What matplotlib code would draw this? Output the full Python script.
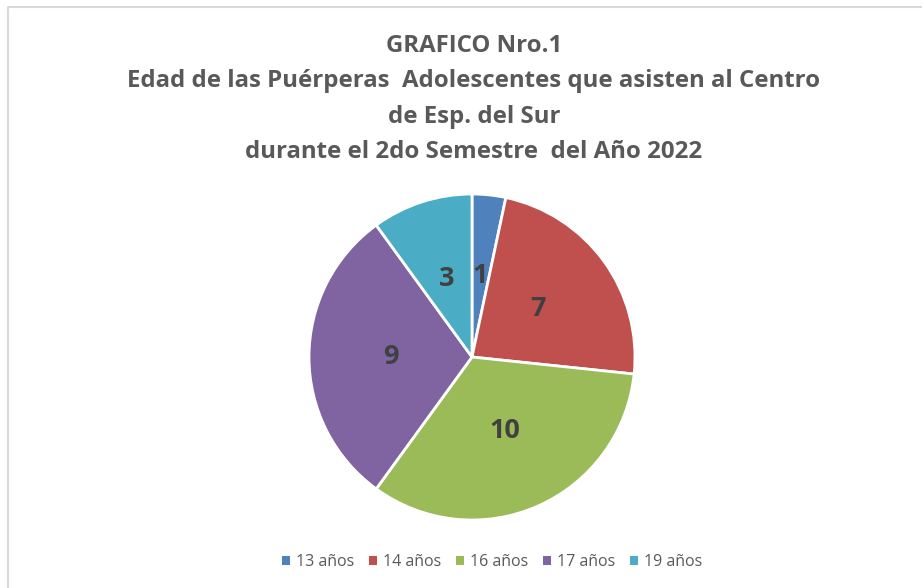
import matplotlib
matplotlib.use('Agg')
import matplotlib.pyplot as plt
from matplotlib.lines import Line2D
from matplotlib.patches import Patch

plt.rcParams['font.family'] = ['Open Sans', 'DejaVu Sans']

CATEGORIES = ['13 años', '14 años', '16 años', '17 años', '19 años']
VALUES     = [1, 7, 10, 9, 3]
COLORS     = ['#4F81BD', '#C0504D', '#9BBB59', '#8064A2', '#4BACC6']
TITLE = ('GRAFICO Nro.1\n'
         'Edad de las Puérperas  Adolescentes que asisten al Centro\n'
         'de Esp. del Sur\n'
         'durante el 2do Semestre  del Año 2022')

W, H = 922, 588
fig = plt.figure(figsize=(W / 100, H / 100), dpi=100)
ax = fig.add_axes([0, 0, 1, 1])

# chart area border (light gray, runs off right/bottom)
ax.add_line(Line2D([8, 8, W + 5], [-5, H - 7, H - 7], color='#D9D9D9', lw=1.5))

total = sum(VALUES)
wedges, texts, autotexts = ax.pie(
    VALUES, colors=COLORS, startangle=90, counterclock=False,
    center=(472, H - 357), radius=163, frame=True,
    wedgeprops=dict(edgecolor='white', linewidth=2),
    autopct=lambda p: f'{round(p * total / 100):d}', pctdistance=0.5,
    textprops=dict(fontsize=19.5, fontweight='bold', color='#404040'),
)
ax.set_xlim(0, W)
ax.set_ylim(0, H)
ax.set_aspect('equal')
ax.axis('off')

ax.text(W / 2 + 13, H - 99, TITLE, ha='center', va='center',
        fontsize=17.3, fontweight='bold', color='#595959', linespacing=1.63)

handles = [Patch(facecolor=c, edgecolor='none') for c in COLORS]
fig.legend(handles, CATEGORIES, loc='center', bbox_to_anchor=(492 / W, 1 - 562 / H),
           ncol=5, frameon=False, fontsize=11.5, labelcolor='#595959',
           handlelength=0.5, handleheight=0.5, handletextpad=0.4, columnspacing=0.9)

fig.savefig('out.png', dpi=100)
